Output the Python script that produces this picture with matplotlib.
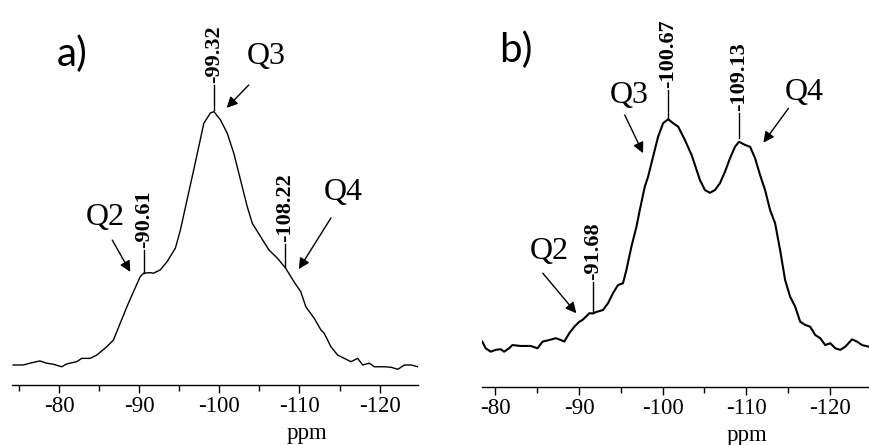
import matplotlib
matplotlib.use("Agg")
import matplotlib.pyplot as plt
from matplotlib.patches import FancyArrowPatch
from matplotlib.ticker import MultipleLocator

# 29Si NMR spectra, panel a)
left_ppm = [-74.24, -75.49, -76.33, -77.58, -78.42, -79.25, -80.30, -80.93, -82.18, -82.81,
            -83.85, -84.69, -85.94, -86.77, -87.61, -88.45, -89.27, -90.11, -90.53, -91.37,
            -91.78, -92.62, -93.46, -94.50, -95.13, -95.96, -96.79, -97.42, -98.05, -98.88,
            -99.32, -100.14, -100.98, -101.80, -102.64, -103.48, -104.11, -105.15, -106.19, -107.24,
            -108.28, -109.32, -110.16, -110.79, -111.83, -112.67, -113.08, -113.92, -114.76, -115.59,
            -116.43, -117.27, -117.89, -118.72, -119.35, -120.60, -121.44, -122.28, -123.11, -123.95,
            -124.79]
left_int = [0.004, 0.004, 0.011, 0.020, 0.011, 0.007, -0.003, 0.008, 0.017, 0.030,
            0.030, 0.043, 0.076, 0.102, 0.168, 0.233, 0.292, 0.351, 0.365, 0.367,
            0.365, 0.378, 0.410, 0.463, 0.535, 0.653, 0.771, 0.862, 0.954, 0.995,
            1.000, 0.967, 0.915, 0.836, 0.731, 0.626, 0.561, 0.508, 0.456, 0.424,
            0.384, 0.331, 0.292, 0.233, 0.188, 0.142, 0.129, 0.076, 0.043, 0.030,
            0.017, 0.030, 0.004, 0.011, -0.003, -0.003, -0.005, -0.013, 0.004, 0.004,
            -0.003]

# panel b)
right_ppm = [-78.44, -78.84, -79.44, -80.04, -80.64, -81.04, -81.64, -82.04, -83.03, -84.23,
             -85.04, -85.64, -86.44, -87.23, -87.83, -88.24, -88.84, -89.44, -90.04, -90.43,
             -90.83, -91.24, -91.68, -92.03, -92.87, -93.47, -94.06, -94.66, -95.26, -95.67,
             -96.27, -96.87, -97.27, -97.87, -98.26, -98.86, -99.46, -100.06, -100.67, -101.26,
             -101.86, -102.66, -103.47, -103.86, -104.46, -105.06, -105.66, -106.26, -106.86, -107.46,
             -108.06, -108.66, -109.13, -109.86, -110.46, -111.06, -111.65, -112.25, -112.85, -113.45,
             -114.05, -114.65, -115.25, -115.85, -116.45, -117.05, -117.65, -118.25, -118.85, -119.45,
             -120.05, -120.65, -121.25, -121.85, -122.65, -123.25, -123.85, -124.64]
right_int = [0.029, 0.000, -0.015, -0.007, -0.004, -0.015, 0.000, 0.014, 0.010, 0.010,
             0.000, 0.029, 0.036, 0.044, 0.036, 0.029, 0.066, 0.094, 0.116, 0.124,
             0.138, 0.153, 0.152, 0.158, 0.167, 0.197, 0.240, 0.276, 0.284, 0.342,
             0.444, 0.531, 0.604, 0.706, 0.749, 0.837, 0.924, 0.983, 1.000, 0.983,
             0.968, 0.910, 0.844, 0.801, 0.735, 0.691, 0.679, 0.691, 0.721, 0.771,
             0.830, 0.880, 0.902, 0.888, 0.880, 0.830, 0.757, 0.691, 0.604, 0.546,
             0.429, 0.298, 0.225, 0.182, 0.116, 0.102, 0.094, 0.058, 0.044, 0.014,
             0.022, 0.000, -0.007, 0.007, 0.039, 0.029, 0.014, 0.007]

# peak markers: (ppm, line bottom, line top)
left_peaks = [(-90.61, 0.366, 0.456), (-99.32, 1.007, 1.105), (-108.22, 0.389, 0.480)]
right_peaks = [(-91.68, 0.159, 0.290), (-100.67, 1.006, 1.128), (-109.13, 0.918, 1.028)]

# Q labels: (text, label x, label y, arrow start, arrow end)
left_q = [("Q2", -85.74, 0.582, (-86.62, 0.495), (-88.87, 0.370)),
          ("Q3", -105.8, 1.215, (-103.67, 1.105), (-100.91, 1.015)),
          ("Q4", -115.45, 0.684, (-113.93, 0.582), (-109.92, 0.381))]
right_q = [("Q2", -86.47, 0.421, (-85.67, 0.328), (-89.68, 0.153)),
           ("Q3", -95.95, 1.106, (-95.47, 1.019), (-97.66, 0.852)),
           ("Q4", -116.93, 1.119, (-115.05, 1.048), (-112.05, 0.898))]

SERIF = "Liberation Serif"

fig = plt.figure(figsize=(8.7, 4.45), dpi=100)
ax1 = fig.add_axes([12 / 870, 60 / 445, 406 / 870, 385 / 445])
ax2 = fig.add_axes([482 / 870, 58.5 / 445, 388 / 870, 386.5 / 445])


def draw_panel(ax, ppm, inten, peaks, qs, xlim, ylim, tag, tag_pos, lw, ppm_x):
    ax.plot(ppm, inten, color="black", lw=lw)
    ax.set_xlim(*xlim)
    ax.set_ylim(*ylim)
    for side in ("top", "left", "right"):
        ax.spines[side].set_visible(False)
    ax.spines["bottom"].set_linewidth(1.0)
    ax.set_yticks([])
    ax.xaxis.set_major_locator(MultipleLocator(10))
    ax.xaxis.set_minor_locator(MultipleLocator(5))
    ax.tick_params(axis="x", which="major", length=6, width=1.0, pad=2,
                   labelsize=16.5, labelfontfamily=SERIF)
    ax.tick_params(axis="x", which="minor", length=4, width=1.0)
    ax.xaxis.set_major_formatter(lambda v, p: f"{v:.0f}")

    for x, y0, y1 in peaks:
        ax.plot([x, x], [y0, y1], color="black", lw=1.0)
        ax.text(x, y1 + 0.008, f"{x:.2f}", rotation=90, ha="center", va="bottom",
                fontsize=16, fontweight="bold", family=SERIF)

    for txt, tx, ty, a0, a1 in qs:
        ax.text(tx, ty, txt, ha="center", va="center", fontsize=23, family=SERIF)
        ax.add_patch(FancyArrowPatch(a0, a1, arrowstyle="-|>", mutation_scale=16,
                                     color="black", lw=1.0, shrinkA=0, shrinkB=0))

    ax.text(tag_pos[0], tag_pos[1], tag, transform=ax.transAxes, ha="center",
            va="center", fontsize=29, family="Lato")
    ax.text(ppm_x, -0.14, "ppm", transform=ax.transAxes, ha="center",
            va="baseline", fontsize=16.5, family=SERIF)


draw_panel(ax1, left_ppm, left_int, left_peaks, left_q, (-74.1, -124.8),
           (-0.0747, 1.439), "a)", (0.148, 0.86), 1.0, 0.727)
draw_panel(ax2, right_ppm, right_int, right_peaks, right_q, (-78.4, -124.8),
           (-0.167, 1.521), "b)", (0.088, 0.871), 1.5, 0.682)

fig.savefig("out.png", dpi=100)
